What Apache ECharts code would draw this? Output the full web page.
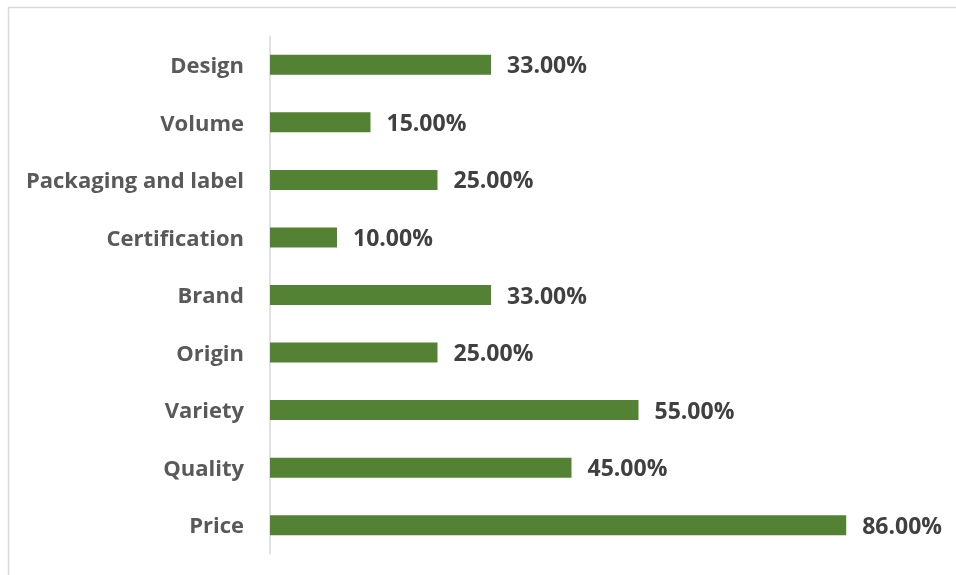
<!DOCTYPE html>
<html>
<head>
<meta charset="utf-8">
<script src="https://cdn.jsdelivr.net/npm/echarts@6/dist/echarts.min.js"></script>
<style>
  html, body { margin: 0; padding: 0; background: #fff; }
  #chart { width: 956px; height: 575px; }
</style>
</head>
<body>
<div id="chart"></div>
<script>
// Purchase factors, listed bottom to top
const categories = ['Price', 'Quality', 'Variety', 'Origin', 'Brand', 'Certification', 'Packaging and label', 'Volume', 'Design'];
const shares = [86, 45, 55, 25, 33, 10, 25, 15, 33];

const FONT = '"Open Sans", "Liberation Sans", sans-serif';
const chart = echarts.init(document.getElementById('chart'));

chart.setOption({
  animation: false,
  backgroundColor: '#ffffff',
  graphic: [{
    type: 'rect',
    shape: { x: 8.5, y: 7.5, width: 960, height: 580 },
    style: { fill: 'none', stroke: '#d9d9d9', lineWidth: 1.5 },
    silent: true
  }],
  grid: { left: 270, right: 16, top: 36, bottom: 21, containLabel: false },
  xAxis: {
    type: 'value',
    min: 0,
    max: 100,
    show: false
  },
  yAxis: {
    type: 'category',
    data: categories,
    axisLine: { show: true, lineStyle: { color: '#d9d9d9', width: 1.5 } },
    axisTick: { show: false },
    axisLabel: {
      color: '#595959',
      fontFamily: FONT,
      fontWeight: 'bold',
      fontSize: 22,
      margin: 26,
      verticalAlign: 'top',
      lineHeight: 4
    }
  },
  series: [{
    type: 'bar',
    data: shares,
    barWidth: 20,
    itemStyle: { color: '#548235' },
    label: {
      show: true,
      position: 'right',
      distance: 16,
      offset: [0, 2],
      color: '#404040',
      fontFamily: FONT,
      fontWeight: 'bold',
      fontSize: 23,
      formatter: p => p.value.toFixed(2) + '%'
    }
  }]
});
</script>
</body>
</html>
